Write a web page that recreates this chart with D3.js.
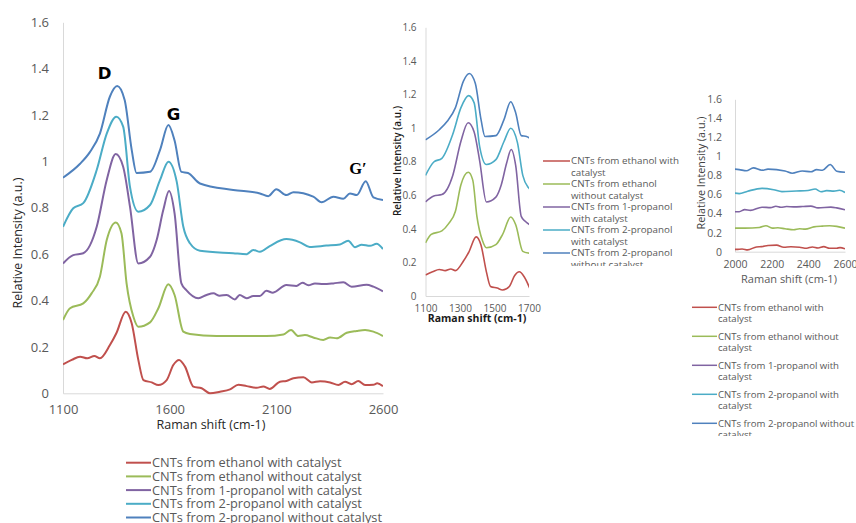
<!DOCTYPE html>
<html>
<head>
<meta charset="utf-8">
<script src="https://cdn.jsdelivr.net/npm/d3@7"></script>
<style>
  html, body { margin: 0; padding: 0; background: #ffffff; }
  svg { display: block; }
  text { font-family: "Open Sans", "Noto Sans", sans-serif; }
</style>
</head>
<body>
<svg id="chart" width="856" height="523"></svg>
<script>
// ---------- data ----------
const seriesNames = [
  "CNTs from ethanol with catalyst",
  "CNTs from ethanol without catalyst",
  "CNTs from 1-propanol with catalyst",
  "CNTs from 2-propanol with catalyst",
  "CNTs from 2-propanol without catalyst"
];
const seriesColors = ["#C0504D", "#9BBB59", "#8064A2", "#4BACC6", "#4F81BD"];

// [Raman shift (cm-1), relative intensity (a.u.)]
const ethanolWithCatalyst = [[1100,0.125],[1141,0.144],[1180,0.158],[1214,0.151],[1247,0.161],[1273,0.151],[1320,0.208],[1350,0.259],[1394,0.352],[1422,0.302],[1453,0.144],[1477,0.057],[1516,0.047],[1547,0.036],[1586,0.057],[1617,0.122],[1644,0.144],[1672,0.115],[1711,0.029],[1750,0.022],[1789,0.0],[1836,0.007],[1883,0.017],[1922,0.037],[1961,0.031],[2008,0.024],[2039,0.029],[2069,0.019],[2117,0.05],[2147,0.053],[2180,0.065],[2227,0.069],[2266,0.047],[2305,0.052],[2352,0.047],[2391,0.036],[2422,0.05],[2453,0.039],[2484,0.053],[2516,0.036],[2555,0.037],[2573,0.043],[2600,0.031]];
const ethanolWithoutCatalyst = [[1100,0.316],[1133,0.367],[1195,0.388],[1234,0.431],[1273,0.503],[1305,0.661],[1348,0.737],[1374,0.69],[1398,0.474],[1430,0.33],[1453,0.287],[1508,0.306],[1547,0.367],[1594,0.47],[1623,0.424],[1664,0.266],[1695,0.256],[1820,0.247],[2053,0.247],[2133,0.254],[2169,0.273],[2203,0.247],[2234,0.251],[2273,0.241],[2320,0.23],[2352,0.241],[2383,0.237],[2430,0.261],[2477,0.269],[2516,0.273],[2555,0.266],[2600,0.247]];
const propanol1WithCatalyst = [[1100,0.56],[1148,0.596],[1195,0.604],[1258,0.718],[1305,0.92],[1347,1.032],[1382,0.977],[1414,0.805],[1453,0.56],[1508,0.589],[1539,0.661],[1570,0.79],[1597,0.872],[1623,0.776],[1655,0.474],[1678,0.445],[1734,0.41],[1773,0.424],[1805,0.431],[1834,0.421],[1867,0.424],[1906,0.405],[1928,0.424],[1961,0.41],[1992,0.42],[2023,0.42],[2053,0.442],[2084,0.434],[2147,0.467],[2194,0.463],[2223,0.477],[2250,0.466],[2281,0.474],[2320,0.471],[2367,0.474],[2414,0.479],[2453,0.46],[2523,0.468],[2555,0.46],[2600,0.44]];
const propanol2WithCatalyst = [[1100,0.718],[1148,0.798],[1195,0.82],[1258,0.963],[1305,1.12],[1350,1.193],[1382,1.15],[1414,0.89],[1453,0.783],[1508,0.812],[1555,0.92],[1594,0.999],[1633,0.913],[1664,0.718],[1695,0.647],[1742,0.615],[1898,0.604],[1961,0.6],[1992,0.618],[2023,0.61],[2069,0.635],[2147,0.665],[2211,0.651],[2256,0.631],[2334,0.637],[2398,0.642],[2437,0.658],[2469,0.63],[2500,0.641],[2539,0.636],[2570,0.645],[2600,0.622]];
const propanol2WithoutCatalyst = [[1100,0.93],[1180,0.99],[1226,1.04],[1273,1.12],[1320,1.28],[1354,1.325],[1389,1.265],[1422,1.05],[1445,0.95],[1508,0.955],[1555,1.05],[1594,1.157],[1623,1.09],[1655,0.955],[1686,0.95],[1742,0.905],[1898,0.877],[2023,0.862],[2062,0.85],[2100,0.88],[2147,0.855],[2180,0.867],[2273,0.848],[2312,0.824],[2367,0.848],[2414,0.839],[2445,0.862],[2477,0.855],[2519,0.915],[2555,0.845],[2600,0.834]];

const allSeries = [ethanolWithCatalyst, ethanolWithoutCatalyst, propanol1WithCatalyst, propanol2WithCatalyst, propanol2WithoutCatalyst];

const yTicks = [0, 0.2, 0.4, 0.6, 0.8, 1, 1.2, 1.4, 1.6];
const xTicksMain = [1100, 1600, 2100, 2600];
const xTicksMid = [1100, 1300, 1500, 1700];
const xTicksRight = [2000, 2200, 2400, 2600];
const peakLabels = ["D", "G", "G\u2032"];

// ---------- drawing ----------
const svg = d3.select("#chart");
const defs = svg.append("defs");
const fmt = d => String(+d.toFixed(1));

function panel(cfg) {
  const x = d3.scaleLinear().domain(cfg.xDomain).range([cfg.left, cfg.right]);
  const y = d3.scaleLinear().domain([0, 1.6]).range([cfg.bottom, cfg.top]);
  const g = svg.append("g");

  const ya = g.append("g").attr("transform", `translate(${cfg.left},0)`)
    .call(d3.axisLeft(y).tickValues(yTicks).tickFormat(fmt).tickSize(0).tickPadding(cfg.yPad));
  const xa = g.append("g").attr("transform", `translate(0,${cfg.bottom})`)
    .call(d3.axisBottom(x).tickValues(cfg.xTicks).tickFormat(d3.format("d")).tickSize(0).tickPadding(cfg.xPad));
  [ya, xa].forEach(a => {
    a.select(".domain").attr("stroke", "#d9d9d9").attr("stroke-width", 1);
    a.selectAll("text").attr("fill", "#595959").style("font-size", cfg.tickSize + "px")
      .style("font-family", '"Open Sans", sans-serif');
  });

  const id = "clip" + cfg.name;
  defs.append("clipPath").attr("id", id).append("rect")
    .attr("x", cfg.left).attr("y", cfg.top - 10)
    .attr("width", cfg.right - cfg.left).attr("height", cfg.bottom - cfg.top + 20);

  const line = d3.line().x(d => x(d[0])).y(d => y(d[1])).curve(d3.curveMonotoneX);
  const lg = g.append("g").attr("clip-path", `url(#${id})`);
  allSeries.forEach((s, i) => {
    const data = s.filter((d, k) => {
      const prev = s[k - 1], next = s[k + 1];
      return (d[0] >= cfg.xDomain[0] && d[0] <= cfg.xDomain[1]) ||
        (next && next[0] >= cfg.xDomain[0] && d[0] < cfg.xDomain[0]) ||
        (prev && prev[0] <= cfg.xDomain[1] && d[0] > cfg.xDomain[1]);
    });
    lg.append("path").datum(data).attr("d", line)
      .attr("fill", "none").attr("stroke", seriesColors[i])
      .attr("stroke-width", cfg.lineW).attr("stroke-linejoin", "round");
  });

  g.append("text").attr("x", cfg.xTitle[0]).attr("y", cfg.xTitle[1])
    .attr("text-anchor", "middle").attr("fill", cfg.xTitleColor)
    .style("font-size", cfg.titleSize + "px").style("font-weight", cfg.xTitleWeight)
    .text("Raman shift (cm-1)");
  g.append("text")
    .attr("transform", `translate(${cfg.yTitle[0]},${cfg.yTitle[1]}) rotate(-90)`)
    .attr("dy", "0.35em").attr("text-anchor", "middle").attr("fill", cfg.yTitleColor)
    .style("font-size", cfg.yTitleSize + "px").style("font-weight", cfg.yTitleWeight)
    .text("Relative Intensity (a.u.)");
  return { x, y, g };
}

const main = panel({
  name: "main", xDomain: [1100, 2600], left: 63, right: 383, top: 22.3, bottom: 393.3,
  xTicks: xTicksMain, yPad: 14, xPad: 11, tickSize: 13, lineW: 2,
  xTitle: [211, 429], xTitleColor: "#262626", xTitleWeight: 400, titleSize: 12.5,
  yTitle: [18, 243], yTitleColor: "#262626", yTitleSize: 12.5, yTitleWeight: 400
});

// peak labels
const peakPos = { "D": [104.5, 73.5], "G": [173.5, 114.5], "G\u2032": [358, 168.5] };
peakLabels.forEach(lab => {
  const p = peakPos[lab];
  main.g.append("text").attr("x", p[0]).attr("y", p[1]).attr("dy", "0.36em")
    .attr("text-anchor", "middle").attr("fill", "#000")
    .style("font-size", "16.5px").style("font-weight", 700)
    .style("font-family", lab === "G\u2032" ? '"Liberation Serif", serif' : '"DejaVu Sans", sans-serif')
    .text(lab);
});

panel({
  name: "mid", xDomain: [1100, 1700], left: 425.5, right: 529, top: 27.3, bottom: 296,
  xTicks: xTicksMid, yPad: 9, xPad: 8.5, tickSize: 10, lineW: 1.6,
  xTitle: [477, 322], xTitleColor: "#1a1a1a", xTitleWeight: 700, titleSize: 10.5,
  yTitle: [397, 161], yTitleColor: "#1a1a1a", yTitleSize: 10, yTitleWeight: 600
});

panel({
  name: "right", xDomain: [2000, 2600], left: 735, right: 845, top: 99.3, bottom: 251.7,
  xTicks: xTicksRight, yPad: 13, xPad: 9, tickSize: 10.5, lineW: 1.6,
  xTitle: [789, 283], xTitleColor: "#595959", xTitleWeight: 400, titleSize: 11,
  yTitle: [701, 173], yTitleColor: "#404040", yTitleSize: 10.8, yTitleWeight: 400
});

// ---------- legends ----------
function legend(cfg) {
  const g = svg.append("g");
  if (cfg.clipBottom) {
    const id = "lclip" + cfg.name;
    defs.append("clipPath").attr("id", id).append("rect")
      .attr("x", 0).attr("y", 0).attr("width", 856).attr("height", cfg.clipBottom);
    g.attr("clip-path", `url(#${id})`);
  }
  const lineH = cfg.lineH || 0;
  seriesNames.forEach((name, i) => {
    const yy = cfg.y0 + i * cfg.step;
    g.append("line").attr("x1", cfg.lx0).attr("x2", cfg.lx1).attr("y1", yy).attr("y2", yy)
      .attr("stroke", seriesColors[i]).attr("stroke-width", cfg.lineW);
    const lines = cfg.wrap ? cfg.wrap[i] : [name];
    lines.forEach((t, j) => {
      g.append("text").attr("x", cfg.tx).attr("y", yy + j * lineH).attr("dy", "0.35em")
        .attr("fill", "#595959").style("font-size", cfg.fs + "px").text(t);
    });
  });
}

legend({ name: "main", y0: 462.7, step: 13.7, lx0: 126, lx1: 151, tx: 152, fs: 12.8, lineW: 2 });
legend({
  name: "mid", y0: 161, step: 23, lx0: 543, lx1: 570, tx: 571, fs: 9.8, lineW: 1.5, lineH: 11.5,
  clipBottom: 266,
  wrap: [["CNTs from ethanol with", "catalyst"], ["CNTs from ethanol", "without catalyst"],
         ["CNTs from 1-propanol", "with catalyst"], ["CNTs from 2-propanol", "with catalyst"],
         ["CNTs from 2-propanol", "without catalyst"]]
});
legend({
  name: "right", y0: 307.3, step: 29, lx0: 692, lx1: 717, tx: 718, fs: 9.6, lineW: 1.5, lineH: 11.8,
  clipBottom: 436,
  wrap: [["CNTs from ethanol with", "catalyst"], ["CNTs from ethanol without", "catalyst"],
         ["CNTs from 1-propanol with", "catalyst"], ["CNTs from 2-propanol with", "catalyst"],
         ["CNTs from 2-propanol without", "catalyst"]]
});
</script>
</body>
</html>
